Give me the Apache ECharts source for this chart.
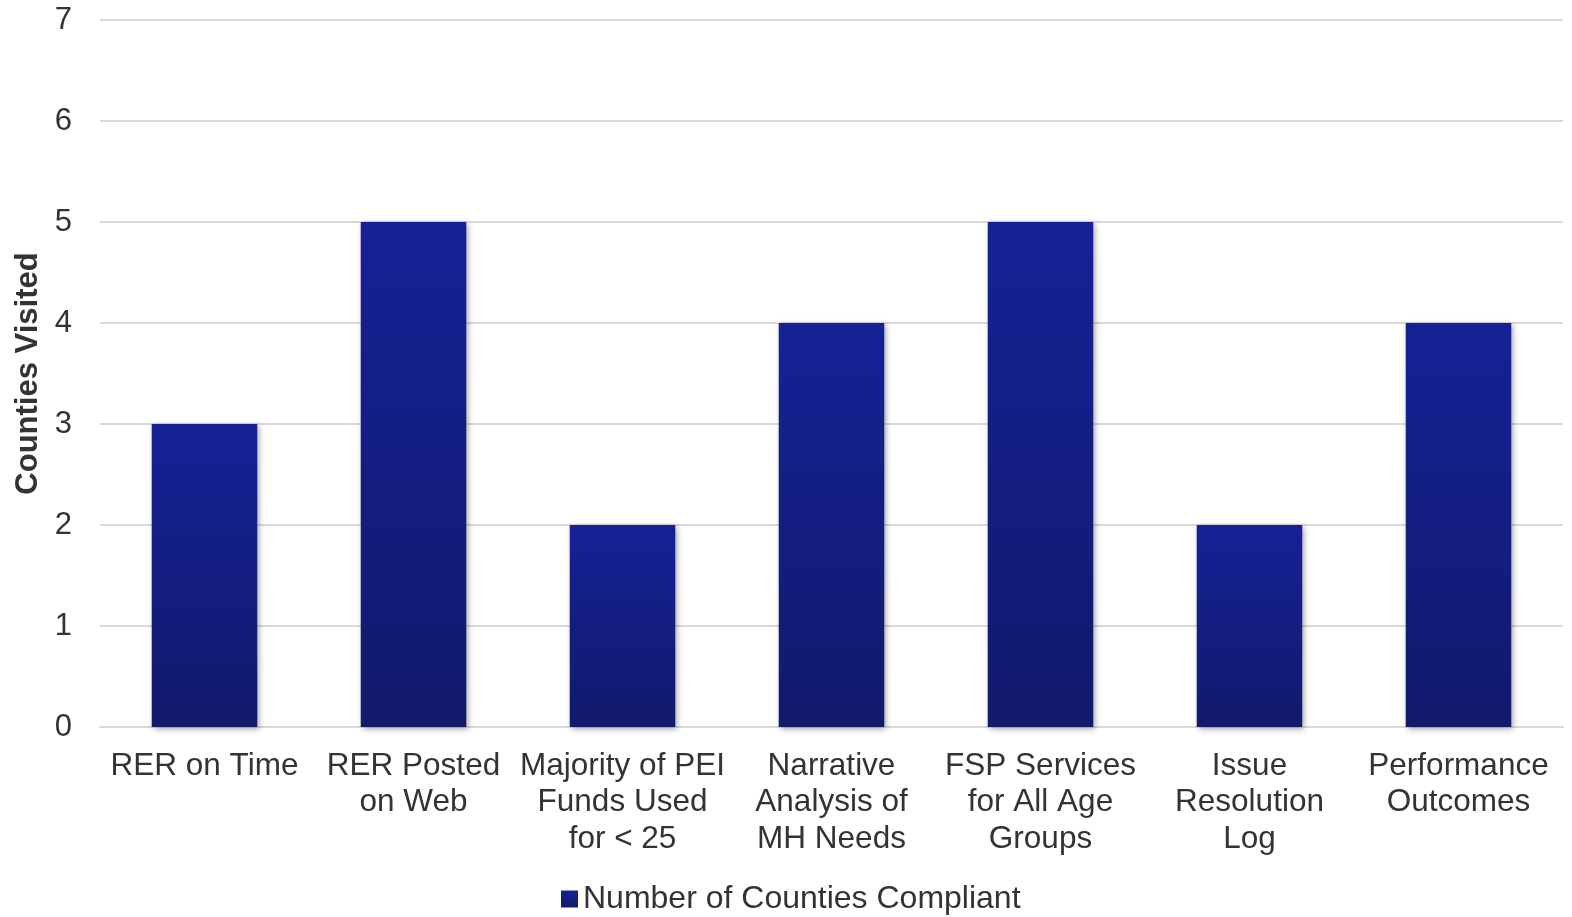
<!DOCTYPE html>
<html>
<head>
<meta charset="utf-8">
<script src="https://cdn.jsdelivr.net/npm/echarts@6/dist/echarts.min.js"></script>
<style>
html, body { margin: 0; padding: 0; background: #fff; }
#chart { width: 1572px; height: 917px; }
</style>
</head>
<body>
<div id="chart"></div>
<script>
// Compliance categories (x axis)
const categories = [
  'RER on Time',
  'RER Posted\non Web',
  'Majority of PEI\nFunds Used\nfor < 25',
  'Narrative\nAnalysis of\nMH Needs',
  'FSP Services\nfor All Age\nGroups',
  'Issue\nResolution\nLog',
  'Performance\nOutcomes'
];
// Number of counties compliant per category
const compliantCounts = [3, 5, 2, 4, 5, 2, 4];
const seriesName = 'Number of Counties Compliant';
const yAxisTitle = 'Counties Visited';

const FONT = '"Liberation Sans", Arial, sans-serif';
const barGradient = new echarts.graphic.LinearGradient(0, 0, 0, 1, [
  { offset: 0, color: '#152196' },
  { offset: 1, color: '#111a6b' }
]);

const chart = echarts.init(document.getElementById('chart'), null, { renderer: 'canvas' });
chart.setOption({
  animation: false,
  textStyle: { fontFamily: FONT },
  grid: { left: 100, right: 9, top: 20, bottom: 190, containLabel: false },
  legend: {
    bottom: -3,
    left: 556,
    itemWidth: 17,
    itemHeight: 17,
    itemGap: 8,
    textStyle: { fontSize: 32, color: '#333', fontFamily: FONT },
    data: [{ name: seriesName, icon: 'rect' }]
  },
  xAxis: {
    type: 'category',
    data: categories,
    axisLine: { show: true, lineStyle: { color: '#d9d9d9', width: 2 } },
    axisTick: { show: false },
    axisLabel: {
      interval: 0,
      margin: 21,
      fontSize: 31.5,
      lineHeight: 36.5,
      color: '#333',
      fontFamily: FONT
    }
  },
  yAxis: {
    type: 'value',
    min: 0,
    max: 7,
    interval: 1,
    name: yAxisTitle,
    nameLocation: 'middle',
    nameGap: 53,
    nameTextStyle: { fontSize: 31, fontWeight: 'bold', color: '#333', fontFamily: FONT },
    axisLine: { show: false },
    axisTick: { show: false },
    axisLabel: { fontSize: 31, color: '#333', margin: 28, fontFamily: FONT },
    splitLine: { lineStyle: { color: '#d9d9d9', width: 2 } }
  },
  series: [{
    name: seriesName,
    type: 'bar',
    data: compliantCounts,
    barCategoryGap: '49.5%',
    itemStyle: {
      color: barGradient,
      shadowColor: 'rgba(0,0,0,0.35)',
      shadowBlur: 6,
      shadowOffsetX: 2,
      shadowOffsetY: 2
    }
  }]
});
</script>
</body>
</html>
